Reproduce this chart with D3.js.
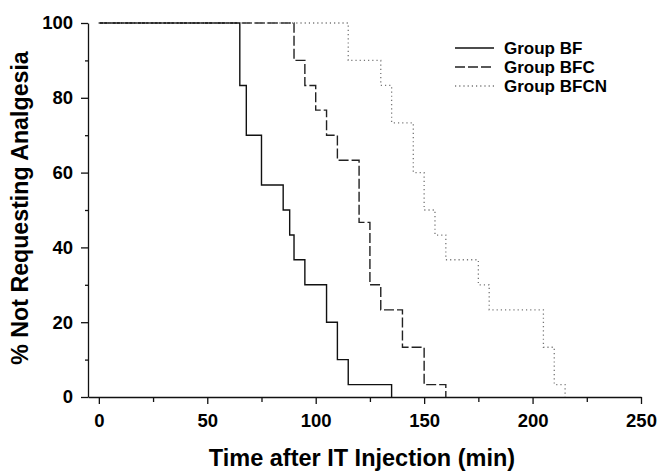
<!DOCTYPE html>
<html>
<head>
<meta charset="utf-8">
<script src="https://cdn.jsdelivr.net/npm/d3@7"></script>
<style>
  body { margin: 0; background: #fff; }
  svg text { font-family: "Liberation Sans", Arial, sans-serif; font-weight: bold; fill: #000; }
</style>
</head>
<body>
<svg id="chart" width="658" height="472"></svg>
<script>
// ---- data ----
const seriesNames = ["Group BF", "Group BFC", "Group BFCN"];
const bfTimes   = [0, 65, 68, 75, 85, 88, 90, 95, 105, 110, 115, 135];
const bfValues  = [100, 83.3, 70, 56.7, 50, 43.3, 36.7, 30, 20, 10, 3.3, 0];
const bfcTimes  = [0, 90, 95, 100, 105, 110, 120, 125, 130, 140, 150, 160];
const bfcValues = [100, 90, 83.3, 76.7, 70, 63.3, 46.7, 30, 23.3, 13.3, 3.3, 0];
const bfcnTimes  = [0, 115, 130, 135, 145, 150, 155, 160, 175, 180, 205, 210, 215];
const bfcnValues = [100, 90, 83.3, 73.3, 60, 50, 43.3, 36.7, 30, 23.3, 13.3, 3.3, 0];
const xTicks = [0, 50, 100, 150, 200, 250];
const xMinorTicks = [25, 75, 125, 175, 225];
const yTicks = [0, 20, 40, 60, 80, 100];
const yMinorTicks = [10, 30, 50, 70, 90];
const xTitle = "Time after IT Injection (min)";
const yTitle = "% Not Requesting Analgesia";

// ---- layout ----
const svg = d3.select("#chart");
const x = d3.scaleLinear().domain([-5, 250]).range([88, 641]);
const y = d3.scaleLinear().domain([0, 100]).range([397, 23]);

const styles = [
  { stroke: "#111", width: 1.4, dash: null },
  { stroke: "#222", width: 1.4, dash: "10,3" },
  { stroke: "#777", width: 1.3, dash: "1.2,3" }
];

const series = [
  { name: seriesNames[0], pts: bfTimes.map((t, i) => [t, bfValues[i]]) },
  { name: seriesNames[1], pts: bfcTimes.map((t, i) => [t, bfcValues[i]]) },
  { name: seriesNames[2], pts: bfcnTimes.map((t, i) => [t, bfcnValues[i]]) }
];

const line = d3.line().x(d => x(d[0])).y(d => y(d[1])).curve(d3.curveStepAfter);

// axes
const xAxis = svg.append("g").attr("transform", `translate(0,${y(0)})`)
  .call(d3.axisBottom(x).tickValues(xTicks).tickSize(7).tickPadding(10).tickSizeOuter(0));
svg.append("g").attr("transform", `translate(0,${y(0)})`)
  .call(d3.axisBottom(x).tickValues(xMinorTicks).tickSize(5).tickFormat("").tickSizeOuter(0))
  .call(g => g.select(".domain").remove());
const yAxis = svg.append("g").attr("transform", `translate(${x(-5)},0)`)
  .call(d3.axisLeft(y).tickValues(yTicks).tickSize(7).tickPadding(8).tickSizeOuter(0));
svg.append("g").attr("transform", `translate(${x(-5)},0)`)
  .call(d3.axisLeft(y).tickValues(yMinorTicks).tickSize(3).tickFormat("").tickSizeOuter(0))
  .call(g => g.select(".domain").remove());

svg.selectAll(".domain, .tick line").attr("stroke", "#111").attr("stroke-width", 1.3);
svg.selectAll(".tick text").attr("font-size", 18.5)
  .attr("font-family", "'Liberation Sans', Arial, sans-serif").attr("font-weight", "bold").attr("fill", "#000");

// curves
svg.append("g").selectAll("path").data(series).join("path")
  .attr("d", d => line(d.pts))
  .attr("fill", "none")
  .attr("stroke", (d, i) => styles[i].stroke)
  .attr("stroke-width", (d, i) => styles[i].width)
  .attr("stroke-dasharray", (d, i) => styles[i].dash);

// legend
const leg = svg.append("g").attr("transform", "translate(455,48)");
const li = leg.selectAll("g").data(series).join("g").attr("transform", (d, i) => `translate(0,${i * 19})`);
li.append("line").attr("x1", 0).attr("x2", 39).attr("y1", 0).attr("y2", 0)
  .attr("stroke", (d, i) => styles[i].stroke)
  .attr("stroke-width", (d, i) => styles[i].width)
  .attr("stroke-dasharray", (d, i) => styles[i].dash);
li.append("text").attr("x", 49).attr("y", 0).attr("dy", "0.36em").attr("font-size", 17).text(d => d.name);

// titles
svg.append("text").attr("x", 362).attr("y", 466).attr("text-anchor", "middle").attr("font-size", 23.5).text(xTitle);
svg.append("text").attr("transform", "translate(28,208) rotate(-90)").attr("text-anchor", "middle").attr("font-size", 23.2).text(yTitle);
</script>
</body>
</html>
